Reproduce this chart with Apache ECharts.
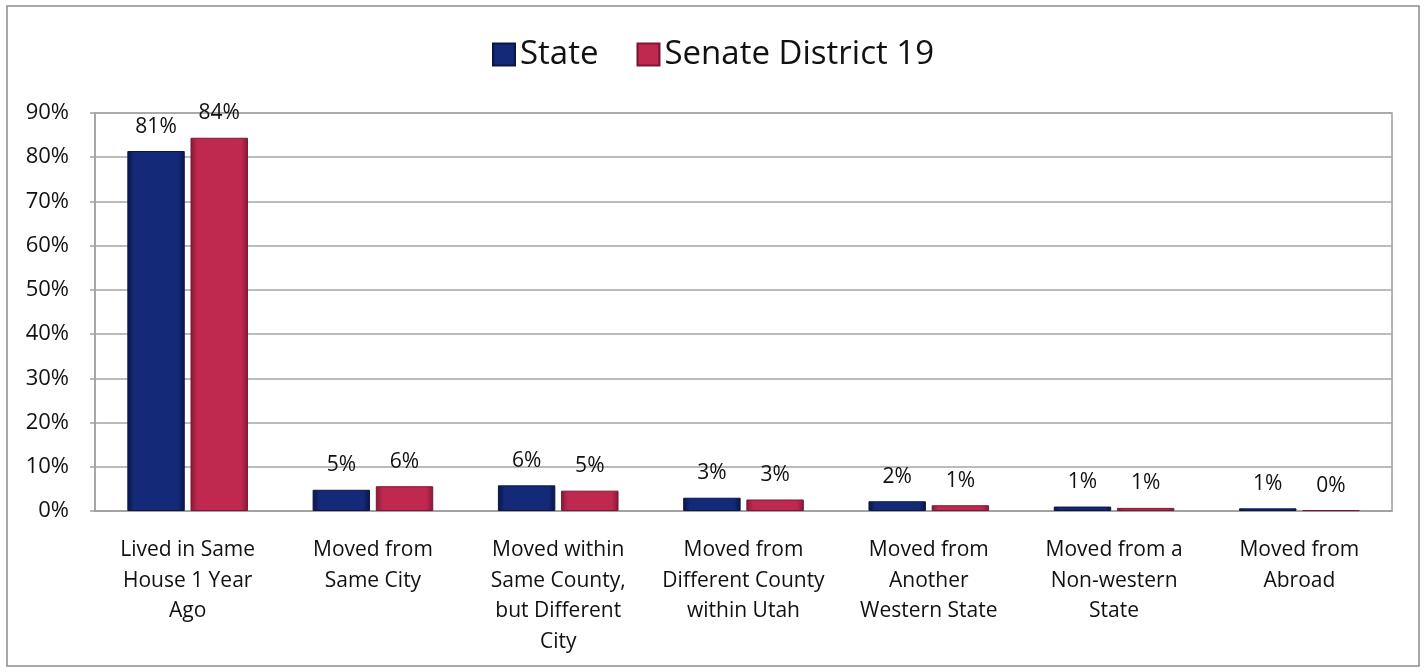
<!DOCTYPE html>
<html>
<head>
<meta charset="utf-8">
<script src="https://cdn.jsdelivr.net/npm/echarts@6/dist/echarts.min.js"></script>
<style>
  html, body { margin: 0; padding: 0; background: #fff; }
  #chart { width: 1426px; height: 672px; }
</style>
</head>
<body>
<div id="chart"></div>
<script>
const categories = [
  "Lived in Same\nHouse 1 Year\nAgo",
  "Moved from\nSame City",
  "Moved within\nSame County,\nbut Different\nCity",
  "Moved from\nDifferent County\nwithin Utah",
  "Moved from\nAnother\nWestern State",
  "Moved from a\nNon-western\nState",
  "Moved from\nAbroad"
];
const seriesNames = ["State", "Senate District 19"];
const stateValues = [81.4, 4.8, 5.8, 3.0, 2.2, 1.0, 0.6];
const districtValues = [84.4, 5.6, 4.6, 2.6, 1.3, 0.7, 0.2];
const yTicks = [0, 10, 20, 30, 40, 50, 60, 70, 80, 90];

const FONT = '"Open Sans", "Noto Sans", sans-serif';

function barGrad(edge, mid) {
  return new echarts.graphic.LinearGradient(0, 0, 1, 0, [
    { offset: 0, color: edge },
    { offset: 0.12, color: mid },
    { offset: 0.88, color: mid },
    { offset: 1, color: edge }
  ]);
}

const chart = echarts.init(document.getElementById('chart'), null, { renderer: 'canvas' });
const labelCfg = {
  show: true,
  position: 'top',
  distance: 14,
  color: '#111',
  fontSize: 21,
  fontFamily: FONT,
  formatter: p => Math.round(p.value) + '%'
};

chart.setOption({
  animation: false,
  backgroundColor: '#fff',
  graphic: [{
    type: 'rect',
    shape: { x: 7, y: 6, width: 1412, height: 660 },
    style: { fill: 'none', stroke: '#8c8c8c', lineWidth: 1.5 },
    silent: true
  }],
  legend: {
    data: seriesNames,
    top: 33,
    left: 'center',
    itemWidth: 22,
    itemHeight: 22,
    itemGap: 38,
    icon: 'rect',
    textStyle: { fontSize: 33, fontFamily: FONT, color: '#111' }
  },
  grid: {
    left: 95, right: 34, top: 113, bottom: 161,
    show: true, borderColor: '#a0a0a0', borderWidth: 1.5, backgroundColor: 'transparent'
  },
  xAxis: {
    type: 'category',
    data: categories,
    axisTick: { show: false },
    axisLine: { show: true, lineStyle: { color: '#a0a0a0', width: 1.5 } },
    axisLabel: {
      interval: 0,
      margin: 24,
      fontSize: 21,
      lineHeight: 30.5,
      fontFamily: FONT,
      color: '#111'
    }
  },
  yAxis: {
    type: 'value',
    min: 0,
    max: 90,
    interval: 10,
    axisLine: { show: true, lineStyle: { color: '#a0a0a0', width: 1.5 } },
    axisTick: { show: true, length: 5, inside: false, lineStyle: { color: '#a0a0a0', width: 1.5 } },
    splitLine: { show: true, lineStyle: { color: '#a6a6a6', width: 1.5 } },
    axisLabel: {
      margin: 26,
      fontSize: 22,
      fontFamily: FONT,
      color: '#111',
      formatter: v => (yTicks.includes(v) ? v + '%' : '')
    }
  },
  series: [
    {
      name: seriesNames[0],
      type: 'bar',
      data: stateValues,
      barWidth: '31%',
      barGap: '10%',
      itemStyle: { color: barGrad('#08154a', '#142a78'), borderColor: '#0a1745', borderWidth: 1 },
      label: labelCfg
    },
    {
      name: seriesNames[1],
      type: 'bar',
      data: districtValues,
      barWidth: '31%',
      itemStyle: { color: barGrad('#86183a', '#c0294f'), borderColor: '#7a1634', borderWidth: 1 },
      label: labelCfg
    }
  ]
});
</script>
</body>
</html>
